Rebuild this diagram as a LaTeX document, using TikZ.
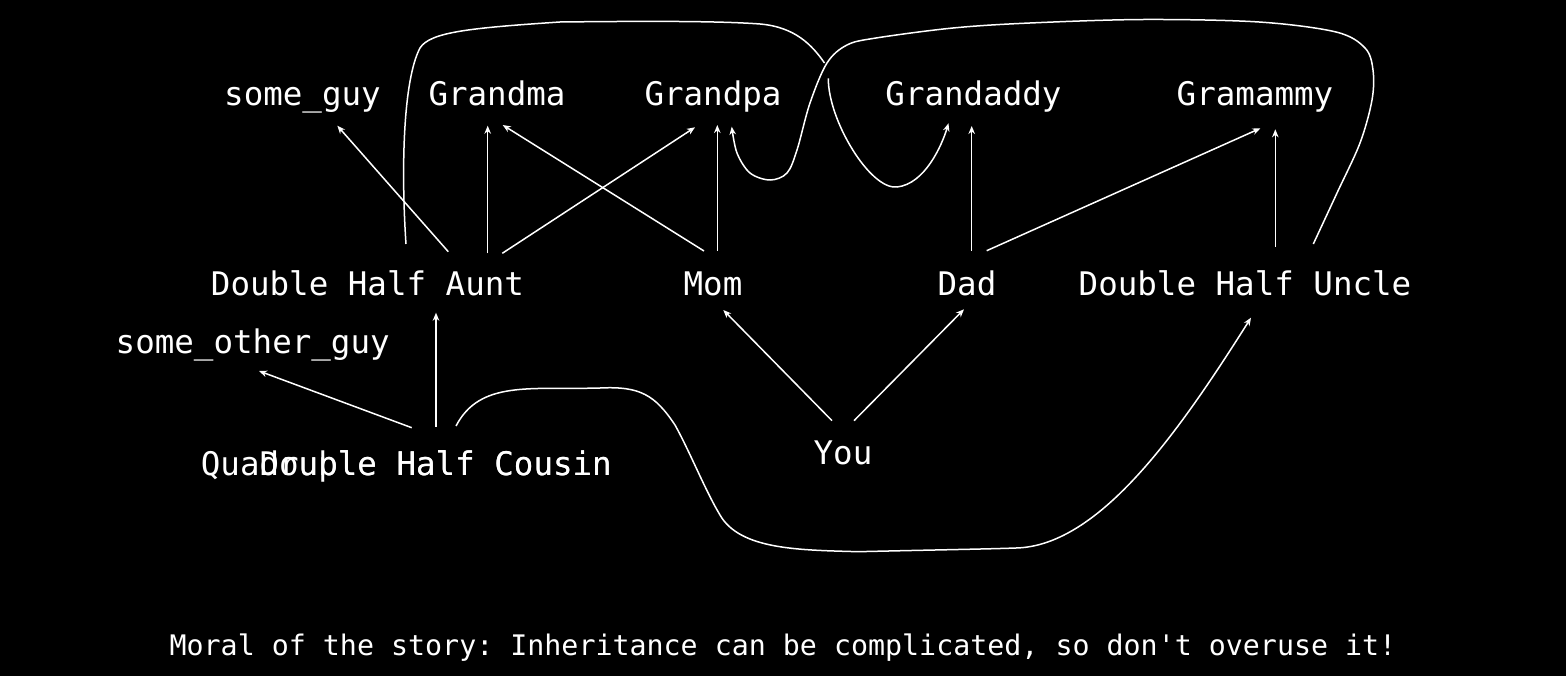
\documentclass[tikz,border=0pt]{standalone}
\usepackage{fontspec}
\setmonofont{DejaVu Sans Mono}
\usetikzlibrary{arrows.meta}
\tikzset{
  lbl/.style={text=white, inner sep=0pt, anchor=base, font=\fontsize{32.5}{39}\selectfont\ttfamily},
  moralstyle/.style={text=white, inner sep=0pt, anchor=base, font=\fontsize{28.3}{34}\selectfont\ttfamily},
  arr/.style={draw=white, line width=1.5pt, -{Stealth[length=8pt,width=6.5pt,inset=2.5pt]}},
  link/.style={draw=white, line width=1.5pt},
}
\begin{document}
\begin{tikzpicture}[x=1pt,y=-1pt]
\fill[black] (0,0) rectangle (1566,676);
\useasboundingbox (0,0) rectangle (1566,676);

% nodes
\node[lbl] (someguy) at (302.5,106) {some\_guy};
\node[lbl] (grandma) at (497,106) {Grandma};
\node[lbl] (grandpa) at (713,106) {Grandpa};
\node[lbl] (grandaddy) at (973.5,106) {Grandaddy};
\node[lbl] (gramammy) at (1255,106) {Gramammy};
\node[lbl] (aunt) at (367.5,295) {Double Half Aunt};
\node[lbl] (mom) at (713,295) {Mom};
\node[lbl] (dad) at (967,295) {Dad};
\node[lbl] (uncle) at (1245,295) {Double Half Uncle};
\node[lbl] (sog) at (252.7,353) {some\_other\_guy};
\node[lbl, anchor=base east] (cousin) at (612,475) {Quadruple Half Cousin};
\node[lbl, anchor=base east] (cousind) at (612,475) {Double Half Cousin};
\node[lbl] (you) at (843,464) {You};
\node[moralstyle] (moral) at (783,655) {Moral of the story: Inheritance can be complicated, so don't overuse it!};

% straight arrows
\draw[arr] ([shift={(80.8,-43.3)}]aunt.base) -- ([shift={(34.8,19.7)}]someguy.base);
\draw[arr] ([shift={(120.2,-41.7)}]aunt.base) -- ([shift={(-9.3,19.7)}]grandma.base);
\draw[arr] ([shift={(134.8,-41.7)}]aunt.base) -- ([shift={(-18,21.3)}]grandpa.base);
\draw[arr] ([shift={(-9,-44)}]mom.base) -- ([shift={(5.7,19)}]grandma.base);
\draw[arr] ([shift={(4.3,-44)}]mom.base) -- ([shift={(4.3,19)}]grandpa.base);
\draw[arr] ([shift={(4.7,-44.3)}]dad.base) -- ([shift={(-1.8,20)}]grandaddy.base);
\draw[arr] ([shift={(19.7,-44.3)}]dad.base) -- ([shift={(5.4,22.3)}]gramammy.base);
\draw[arr] ([shift={(30.3,-48.3)}]uncle.base) -- ([shift={(20.3,23.3)}]gramammy.base);
\draw[arr] ([shift={(-11,-43.3)}]you.base) -- ([shift={(10.3,15)}]mom.base);
\draw[arr] ([shift={(11,-43.3)}]you.base) -- ([shift={(-3,14.3)}]dad.base);
\draw[arr] ([shift={(-176,-48.3)}]cousin.base east) -- ([shift={(68.5,17.7)}]aunt.base);
\draw[arr] ([shift={(-200.3,-47.3)}]cousin.base east) -- ([shift={(6.3,18)}]sog.base);

% curve endpoints
\coordinate (aS) at ([shift={(38.5,-51)}]aunt.base);
\coordinate (aE) at ([shift={(-25,17.3)}]grandaddy.base);
\coordinate (gapA) at (824.5,63);
\coordinate (gapB) at (828.3,78.3);
\coordinate (uS) at ([shift={(68.3,-51)}]uncle.base);
\coordinate (uE) at ([shift={(18.7,20.7)}]grandpa.base);
\coordinate (cS) at ([shift={(-156,-49)}]cousin.base east);
\coordinate (cE) at ([shift={(6,22.7)}]uncle.base);

% Aunt -> Grandaddy (with a gap where the other curve crosses)
\draw[link] (aS) .. controls (401,170) and (403,80) .. (420,48)
  .. controls (430,32) and (470,28) .. (560,22)
  .. controls (650,21) and (720,21) .. (760,24)
  .. controls (795,27) and (812,45) .. (gapA);
\draw[arr] (gapB) .. controls (828,120) and (870,190) .. (897,187)
  .. controls (925,184) and (942,145) .. (aE);

% Uncle -> Grandpa
\draw[arr] plot[smooth, tension=0.55] coordinates {(uS) (1337,193) (1360,143) (1372,100) (1373,70) (1365,48) (1336,32) (1259,22) (1144,19.5) (1030,23) (953,28) (876,38) (847,45) (827,63) (810,103) (797,150) (787,173) (770,180) (750,173) (737,153) (uE)};

% Cousin -> Uncle
\draw[arr] (cS) .. controls (480,380) and (530,390) .. (600,388)
  .. controls (640,386) and (655,395) .. (675,425)
  .. controls (690,452) and (705,490) .. (720,515)
  .. controls (740,550) and (800,550) .. (858,551.7)
  .. controls (930,550) and (990,549) .. (1016,548)
  .. controls (1100,546) and (1180,430) .. (cE);
\end{tikzpicture}
\end{document}
